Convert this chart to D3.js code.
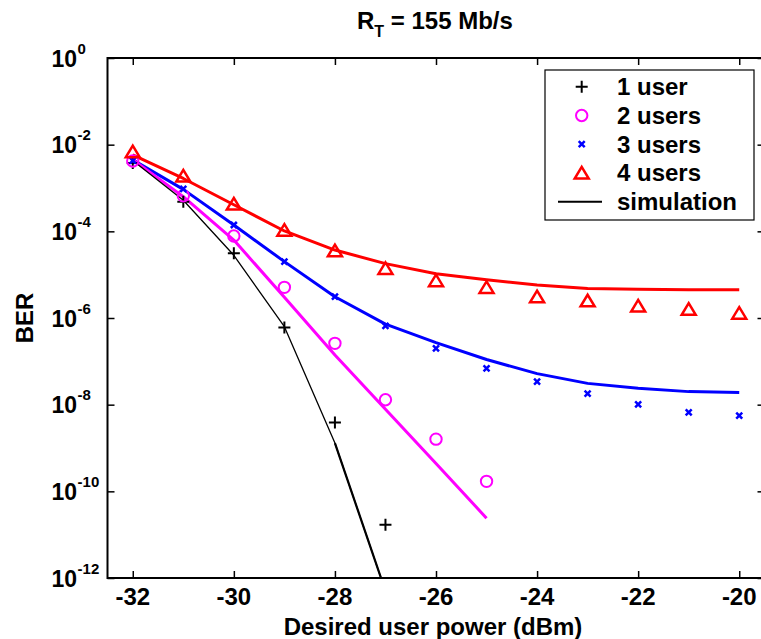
<!DOCTYPE html>
<html>
<head>
<meta charset="utf-8">
<script src="https://cdn.jsdelivr.net/npm/d3@7/dist/d3.min.js"></script>
<style>
  html, body { margin: 0; padding: 0; background: #fff; }
  svg { display: block; }
  text { font-family: "Liberation Sans", Arial, Helvetica, sans-serif; font-weight: bold; fill: #000; }
</style>
</head>
<body>
<svg id="chart" width="761" height="639"></svg>
<script>
// Desired user power (dBm)
const powers = [-32, -31, -30, -29, -28, -27, -26, -25, -24, -23, -22, -21, -20];

// Analytical BER points, one array per number of active users
const ber1User  = [3.8e-3, 4.8e-4, 3.1e-5, 6.0e-7, 3.9e-9, 1.7e-11];
const ber2Users = [4.2e-3, 6.6e-4, 7.8e-5, 5.1e-6, 2.6e-7, 1.3e-8, 1.6e-9, 1.7e-10];
const ber3Users = [4.3e-3, 9.5e-4, 1.4e-4, 2.0e-5, 3.1e-6, 6.6e-7, 2.0e-7, 6.9e-8, 3.4e-8, 1.8e-8, 1.02e-8, 6.6e-9, 5.6e-9];
const ber4Users = [6.9e-3, 1.9e-3, 4.3e-4, 1.07e-4, 3.6e-5, 1.4e-5, 7.3e-6, 5.1e-6, 3.1e-6, 2.5e-6, 1.9e-6, 1.6e-6, 1.3e-6];

// Simulated BER curves
const sim1User  = [4.3e-3, 5.2e-4, 2.8e-5, 6.3e-7, 1.3e-9, 5.0e-13];
const sim2Users = [4.5e-3, 6.3e-4, 6.3e-5, 3.0e-6, 1.4e-7, 7.8e-9, 4.4e-10, 2.4e-11];
const sim3Users = [4.5e-3, 9.3e-4, 1.4e-4, 2.0e-5, 3.1e-6, 7.2e-7, 2.7e-7, 1.1e-7, 5.2e-8, 3.1e-8, 2.4e-8, 2.0e-8, 1.9e-8];
const sim4Users = [5.8e-3, 1.66e-3, 4.1e-4, 1.02e-4, 3.7e-5, 1.8e-5, 1.05e-5, 7.6e-6, 5.8e-6, 4.8e-6, 4.6e-6, 4.5e-6, 4.5e-6];

// Axis ticks and labels
const xTicks = [-32, -30, -28, -26, -24, -22, -20];
const yTickExponents = [0, -2, -4, -6, -8, -10, -12];
const legendLabels = ["1 user", "2 users", "3 users", "4 users", "simulation"];

const svg = d3.select("#chart");
const plotLeft = 107.5, plotRight = 764.5, plotTop = 58, plotBottom = 578;

const x = d3.scaleLinear().domain([-32.5, -19.5]).range([plotLeft, plotRight]);
const y = d3.scaleLog().domain([1, 1e-12]).range([plotTop, plotBottom]);

svg.append("rect").attr("width", 761).attr("height", 639).attr("fill", "#fff");

// clip for curves running past the lower bound
svg.append("defs").append("clipPath").attr("id", "plotClip")
  .append("rect").attr("x", plotLeft).attr("y", plotTop)
  .attr("width", plotRight - plotLeft).attr("height", plotBottom - plotTop);

// Inward ticks on all four sides
const yTickVals = yTickExponents.map(e => Math.pow(10, e));
function styleAxis(g) {
  g.select(".domain").remove();
  g.selectAll(".tick line").attr("stroke", "#000").attr("stroke-width", 1.5);
  g.selectAll(".tick text").remove();
}
svg.append("g").attr("transform", `translate(0,${plotBottom})`)
  .call(d3.axisBottom(x).tickValues(xTicks).tickSizeInner(-7).tickSizeOuter(0)).call(styleAxis);
svg.append("g").attr("transform", `translate(0,${plotTop})`)
  .call(d3.axisTop(x).tickValues(xTicks).tickSizeInner(-7).tickSizeOuter(0)).call(styleAxis);
svg.append("g").attr("transform", `translate(${plotLeft},0)`)
  .call(d3.axisLeft(y).tickValues(yTickVals).tickSizeInner(-7).tickSizeOuter(0)).call(styleAxis);
svg.append("g").attr("transform", `translate(${plotRight},0)`)
  .call(d3.axisRight(y).tickValues(yTickVals).tickSizeInner(-7).tickSizeOuter(0)).call(styleAxis);

// Plot frame
svg.append("rect").attr("x", plotLeft).attr("y", plotTop)
  .attr("width", plotRight - plotLeft).attr("height", plotBottom - plotTop)
  .attr("fill", "none").attr("stroke", "#000").attr("stroke-width", 2);

// X tick labels
svg.append("g").selectAll("text").data(xTicks).join("text")
  .attr("x", d => x(d)).attr("y", 605)
  .attr("text-anchor", "middle").attr("font-size", 24)
  .text(d => d);

// Y tick labels as powers of ten
const yLab = svg.append("g").selectAll("text").data(yTickExponents).join("text")
  .attr("x", 51.5).attr("y", d => y(Math.pow(10, d)) + 8.5)
  .attr("font-size", 23);
yLab.append("tspan").text("10");
yLab.append("tspan").attr("font-size", 15).attr("dx", 0.5).attr("dy", -13).text(d => d);

// Title
const title = svg.append("text").attr("x", 357).attr("y", 29).attr("font-size", 24);
title.append("tspan").text("R");
title.append("tspan").attr("font-size", 16).attr("dy", 8).text("T");
title.append("tspan").attr("dy", -8).text(" = 155 Mb/s");

// Axis titles
svg.append("text").attr("x", 433).attr("y", 635)
  .attr("text-anchor", "middle").attr("font-size", 24)
  .text("Desired user power (dBm)");
svg.append("text").attr("transform", "translate(33,318) rotate(-90)")
  .attr("text-anchor", "middle").attr("font-size", 24)
  .text("BER");

// Simulation curves
const line = d3.line().x(d => x(d[0])).y(d => y(d[1]));
const pairs = vals => vals.map((v, i) => [powers[i], v]);
const curves = svg.append("g").attr("clip-path", "url(#plotClip)");
const simSeries = [
  { data: sim4Users, color: "#ff0000", w: 3 },
  { data: sim3Users, color: "#0000ff", w: 3 },
  { data: sim2Users, color: "#ff00ff", w: 3 },
  { data: sim1User,  color: "#000000", w: 1.3 }
];
simSeries.forEach(s => {
  curves.append("path").datum(pairs(s.data)).attr("d", line)
    .attr("fill", "none").attr("stroke", s.color).attr("stroke-width", s.w)
    .attr("stroke-linejoin", "round");
});
// steep tail of the single-user curve is drawn heavier
curves.append("path").datum(pairs(sim1User).filter(d => d[0] >= -28)).attr("d", line)
  .attr("fill", "none").attr("stroke", "#000").attr("stroke-width", 2.2);

// Marker shapes
const markerDefs = {
  plus:     { path: "M-6,0H6M0,-6V6", color: "#000000", w: 2 },
  circle:   { path: "M5.7,0A5.7,5.7 0 1 1 -5.7,0A5.7,5.7 0 1 1 5.7,0Z", color: "#ff00ff", w: 2 },
  cross:    { path: "M-3,-3L3,3M3,-3L-3,3", color: "#0000ff", w: 2.5 },
  triangle: { path: "M0,-6L7,5.6L-7,5.6Z", color: "#ff0000", w: 2.5 }
};
const markerSeries = [
  { data: ber1User,  m: "plus" },
  { data: ber2Users, m: "circle" },
  { data: ber3Users, m: "cross" },
  { data: ber4Users, m: "triangle" }
];
const marks = svg.append("g");
markerSeries.forEach(s => {
  const md = markerDefs[s.m];
  marks.append("g").selectAll("path").data(pairs(s.data)).join("path")
    .attr("transform", d => `translate(${x(d[0])},${y(d[1])})`)
    .attr("d", md.path).attr("fill", "none")
    .attr("stroke", md.color).attr("stroke-width", md.w);
});

// Legend
const lg = svg.append("g");
lg.append("rect").attr("x", 545).attr("y", 70).attr("width", 209).attr("height", 150)
  .attr("fill", "#fff").attr("stroke", "#000").attr("stroke-width", 1.2);
const legendKeys = ["plus", "circle", "cross", "triangle", "line"];
legendLabels.forEach((lab, i) => {
  const cy = 86.7 + i * 28.75;
  const key = legendKeys[i];
  if (key === "line") {
    lg.append("line").attr("x1", 558).attr("x2", 602).attr("y1", cy).attr("y2", cy)
      .attr("stroke", "#000").attr("stroke-width", 2);
  } else {
    const md = markerDefs[key];
    lg.append("path").attr("transform", `translate(581.7,${cy})`)
      .attr("d", md.path).attr("fill", "none")
      .attr("stroke", md.color).attr("stroke-width", md.w);
  }
  lg.append("text").attr("x", 617).attr("y", cy + 8.5).attr("font-size", 24).text(lab);
});
</script>
</body>
</html>
